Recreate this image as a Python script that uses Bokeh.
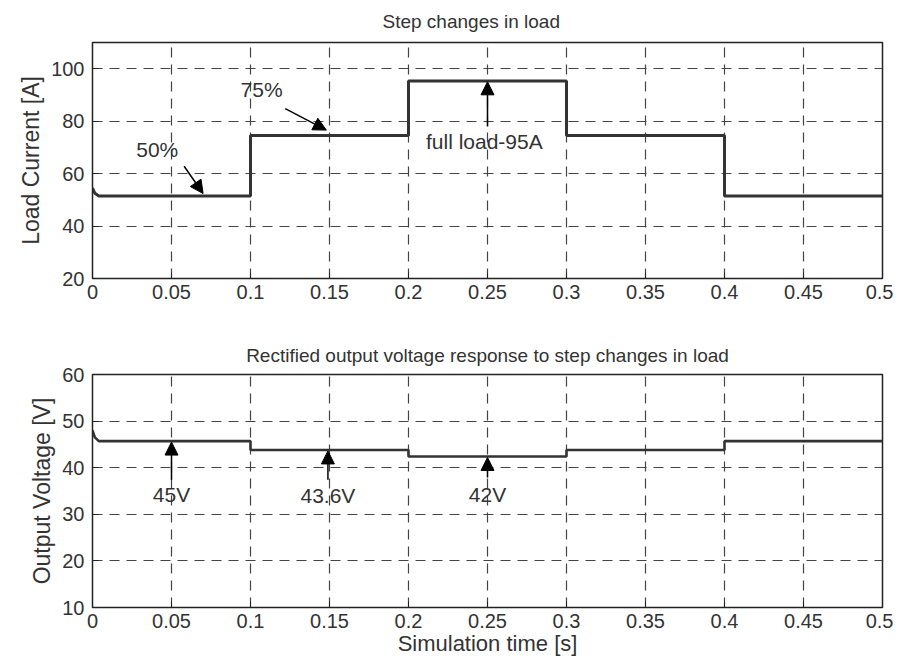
from bokeh.plotting import figure
from bokeh.layouts import column
from bokeh.models import Range1d, FixedTicker, NumeralTickFormatter, Arrow, NormalHead, Label
from bokeh.embed import file_html
from bokeh.resources import INLINE

# ---- data ----
step_times = [0.0, 0.1, 0.2, 0.3, 0.4, 0.5]
current_levels = [51.5, 74.5, 95.3, 74.5, 51.5]
voltage_levels = [45.7, 43.8, 42.4, 43.8, 45.7]
start_t = [0.0, 0.0015, 0.004]
start_current = [54.5, 52.5, 51.5]
start_voltage = [48.0, 46.5, 45.7]

x_ticks = [0, 0.05, 0.1, 0.15, 0.2, 0.25, 0.3, 0.35, 0.4, 0.45, 0.5]
y1_ticks = [20, 40, 60, 80, 100]
y2_ticks = [10, 20, 30, 40, 50, 60]

FONT = "Liberation Sans"
TXT = "#333333"


def build_series(levels, t0, v0):
    xs = list(t0)
    ys = list(v0)
    for i, lvl in enumerate(levels):
        a = step_times[i] if i > 0 else t0[-1]
        xs += [a, step_times[i + 1]]
        ys += [lvl, lvl]
    return xs, ys


def style(p, yticks):
    p.xaxis.ticker = FixedTicker(ticks=x_ticks)
    p.yaxis.ticker = FixedTicker(ticks=yticks)
    p.xaxis.formatter = NumeralTickFormatter(format="0.[00]")
    for ax in (p.xaxis, p.yaxis):
        ax.major_label_text_font = FONT
        ax.major_label_text_font_size = "20px"
        ax.major_label_text_color = TXT
        ax.axis_label_text_font = FONT
        ax.axis_label_text_font_style = "normal"
        ax.axis_label_text_color = TXT
        ax.axis_line_color = "#222222"
        ax.major_tick_in = 6
        ax.major_tick_out = 0
        ax.major_tick_line_color = "#222222"
        ax.minor_tick_line_color = None
    p.xaxis.axis_label_text_font_size = "22px"
    p.yaxis.axis_label_text_font_size = "23px"
    p.xaxis.major_label_standoff = 6
    p.yaxis.major_label_standoff = 8
    p.yaxis.axis_label_standoff = 4
    p.grid.grid_line_color = "#444444"
    p.grid.grid_line_dash = "10 7"
    p.grid.grid_line_width = 1.2
    p.outline_line_color = "#222222"
    p.outline_line_width = 1.5
    p.title.text_font = FONT
    p.title.text_font_size = "19px"
    p.title.text_font_style = "normal"
    p.title.text_color = TXT
    p.title.vertical_align = "top"


def annotate(p, text, tx, ty, x0, y0, x1, y1):
    p.add_layout(Label(x=tx, y=ty, text=text, text_align="center", text_baseline="middle",
                       text_font=FONT, text_font_size="21px", text_color=TXT))
    p.add_layout(Arrow(end=NormalHead(size=13, fill_color="black", line_color="black"),
                       x_start=x0, y_start=y0, x_end=x1, y_end=y1,
                       line_color="black", line_width=1.5))


p1 = figure(width=893, height=335, output_backend="svg", toolbar_location=None,
            x_range=Range1d(0, 0.5), y_range=Range1d(20, 110),
            title="Step changes in load",
            min_border_left=92, min_border_right=11, min_border_top=42, min_border_bottom=57)
p1.yaxis.axis_label = "Load Current [A]"
xs, ys = build_series(current_levels, start_t, start_current)
p1.line(xs, ys, line_color="#333333", line_width=3)
style(p1, y1_ticks)
p1.title.align = "left"
p1.title.offset = 290
p1.title.standoff = 17
annotate(p1, "50%", 0.041, 69.3, 0.058, 62.8, 0.070, 52.4)
annotate(p1, "75%", 0.107, 92.0, 0.122, 84.8, 0.148, 76.6)
annotate(p1, "full load-95A", 0.248, 72.3, 0.25, 78.0, 0.25, 95.0)

p2 = figure(width=893, height=325, output_backend="svg", toolbar_location=None,
            x_range=Range1d(0, 0.5), y_range=Range1d(10, 60),
            title="Rectified output voltage response to step changes in load",
            min_border_left=92, min_border_right=11, min_border_top=39, min_border_bottom=53)
p2.yaxis.axis_label = "Output Voltage [V]"
p2.xaxis.axis_label = "Simulation time [s]"
xs, ys = build_series(voltage_levels, start_t, start_voltage)
p2.line(xs, ys, line_color="#333333", line_width=2.6)
style(p2, y2_ticks)
p2.title.align = "center"
p2.title.standoff = 14
p2.xaxis.axis_label_standoff = 0
annotate(p2, "45V", 0.05, 34.3, 0.05, 37.4, 0.05, 45.5)
annotate(p2, "43.6V", 0.149, 34.0, 0.149, 37.4, 0.149, 43.6)
annotate(p2, "42V", 0.25, 34.3, 0.25, 37.9, 0.25, 42.2)

layout = column(p1, p2)
open("out.html", "w").write(file_html(layout, INLINE))
